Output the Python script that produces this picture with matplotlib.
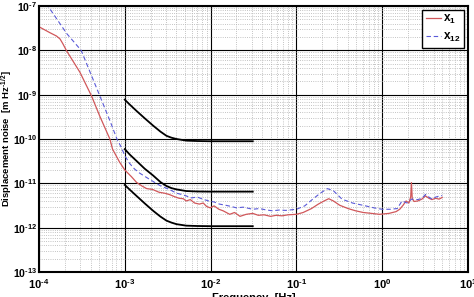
import numpy as np
import matplotlib
matplotlib.use("Agg")
from matplotlib import pyplot as plt
from matplotlib import ticker as mticker

# Displacement noise spectra
x1_freq = [1.0e-4, 1.34e-4, 1.6e-4, 1.76e-4, 1.9e-4, 2.1e-4, 3.0e-4, 4.1e-4, 5.1e-4, 6.7e-4, 7.2e-4, 8.7e-4,
           1.0e-3, 1.2e-3, 1.37e-3, 1.6e-3, 1.8e-3, 2.1e-3, 2.5e-3, 2.9e-3, 3.3e-3, 3.8e-3,
           4.3e-3, 4.8e-3, 5.2e-3, 5.8e-3, 6.5e-3, 7.4e-3, 8.2e-3, 9.0e-3, 9.9e-3, 1.1e-2,
           1.25e-2, 1.4e-2, 1.67e-2, 1.9e-2, 2.2e-2, 2.6e-2, 3.1e-2, 3.6e-2, 4.2e-2, 5.0e-2,
           5.8e-2, 6.8e-2, 8.0e-2, 0.1, 0.12, 0.15, 0.18, 0.21, 0.238, 0.27, 0.32, 0.4,
           0.49, 0.6, 0.75, 0.93, 1.2, 1.45, 1.6, 1.75, 1.9, 2.05, 2.15, 2.19, 2.24, 2.35,
           2.6, 2.9, 3.2, 3.5, 3.8, 4.2, 4.6, 5.0]
x1_val = [3.4e-8, 2.5e-8, 2.1e-8, 1.8e-8, 1.4e-8, 9.7e-9, 3.2e-9, 9.3e-10, 3.3e-10, 1.0e-10, 5.9e-11, 3.0e-11,
          2.0e-11, 1.4e-11, 1.05e-11, 8.6e-12, 7.6e-12, 7.3e-12, 6.3e-12, 6.0e-12, 5.6e-12, 5.0e-12,
          4.6e-12, 4.5e-12, 4.0e-12, 4.3e-12, 3.6e-12, 3.4e-12, 3.6e-12, 3.0e-12, 2.8e-12, 3.1e-12,
          2.6e-12, 2.4e-12, 2.0e-12, 2.2e-12, 1.8e-12, 2.0e-12, 2.1e-12, 1.9e-12, 1.95e-12, 1.8e-12,
          1.9e-12, 1.85e-12, 1.95e-12, 2.0e-12, 2.2e-12, 2.7e-12, 3.4e-12, 4.0e-12, 4.5e-12, 4.0e-12,
          3.2e-12, 2.7e-12, 2.4e-12, 2.2e-12, 2.1e-12, 2.0e-12, 2.1e-12, 2.3e-12, 2.6e-12, 3.2e-12,
          4.0e-12, 3.6e-12, 5.0e-12, 1.04e-11, 4.5e-12, 3.9e-12, 4.0e-12, 4.4e-12, 5.2e-12, 4.6e-12,
          4.3e-12, 4.6e-12, 4.4e-12, 4.8e-12]

x12_freq = [1.0e-4, 1.27e-4, 1.6e-4, 2.1e-4, 3.1e-4, 4.27e-4, 5.1e-4, 6.7e-4, 8.1e-4, 9.1e-4, 1.0e-3,
            1.14e-3, 1.3e-3, 1.49e-3, 1.8e-3, 2.14e-3, 2.6e-3, 3.3e-3, 4.0e-3, 4.6e-3, 5.2e-3,
            6.0e-3, 7.0e-3, 8.1e-3, 9.5e-3, 1.1e-2, 1.27e-2, 1.5e-2, 1.75e-2, 2.0e-2, 2.4e-2,
            3.1e-2, 3.7e-2, 4.5e-2, 5.3e-2, 6.3e-2, 7.5e-2, 0.1, 0.125, 0.155, 0.19, 0.23,
            0.27, 0.34, 0.45, 0.64, 0.8, 1.0, 1.25, 1.5, 1.7, 1.95, 2.2, 2.6, 2.9, 3.2, 3.5,
            3.8, 4.2, 4.7, 5.0]
x12_val = [1.3e-7, 1.0e-7, 5.2e-8, 2.4e-8, 1.0e-8, 2.2e-9, 9.5e-10, 2.6e-10, 1.0e-10, 6.5e-11, 4.2e-11,
           2.8e-11, 2.1e-11, 1.7e-11, 1.35e-11, 1.1e-11, 8.8e-12, 7.3e-12, 6.0e-12, 5.6e-12, 5.2e-12,
           4.7e-12, 4.9e-12, 4.4e-12, 4.0e-12, 3.8e-12, 3.4e-12, 3.2e-12, 3.0e-12, 2.8e-12, 2.9e-12,
           2.6e-12, 2.7e-12, 2.5e-12, 2.4e-12, 2.5e-12, 2.45e-12, 2.6e-12, 3.1e-12, 4.4e-12, 6.0e-12, 7.6e-12,
           6.8e-12, 4.4e-12, 3.6e-12, 3.1e-12, 2.8e-12, 2.6e-12, 2.6e-12, 2.7e-12, 4.0e-12, 3.6e-12, 4.4e-12,
           4.3e-12, 4.6e-12, 5.6e-12, 4.9e-12, 4.4e-12, 4.9e-12, 5.2e-12, 5.3e-12]

# Requirement curves (black), 1 mHz to 30 mHz
req_freq = [1.0e-3, 1.15e-3, 1.37e-3, 1.7e-3, 2.14e-3, 2.6e-3, 3.06e-3, 3.5e-3, 4.0e-3,
            5.2e-3, 7.0e-3, 1.0e-2, 3.1e-2]
req_a = [7.7e-10, 5.9e-10, 4.3e-10, 2.95e-10, 2.0e-10, 1.47e-10, 1.18e-10, 1.07e-10, 1.0e-10,
         9.2e-11, 9.0e-11, 8.9e-11, 8.9e-11]
req_b = [5.9e-11, 4.4e-11, 3.2e-11, 2.15e-11, 1.5e-11, 1.07e-11, 8.7e-12, 7.8e-12, 7.3e-12,
         6.7e-12, 6.55e-12, 6.5e-12, 6.5e-12]
req_c = [9.2e-12, 7.1e-12, 5.2e-12, 3.55e-12, 2.4e-12, 1.78e-12, 1.44e-12, 1.3e-12, 1.2e-12,
         1.11e-12, 1.09e-12, 1.08e-12, 1.08e-12]

x_ticks = [1e-4, 1e-3, 1e-2, 1e-1, 1e0, 1e1]
x_exps = ["-4", "-3", "-2", "-1", "0", "1"]
y_ticks = [1e-13, 1e-12, 1e-11, 1e-10, 1e-9, 1e-8, 1e-7]
y_exps = ["-13", "-12", "-11", "-10", "-9", "-8", "-7"]


def power_label(exp):
    # short hyphen instead of the wide mathtext minus
    exp = exp.replace("-", r"\text{-}")
    return r"$\mathbf{10^{%s}}$" % exp


plt.rcParams["font.family"] = ["Liberation Sans", "DejaVu Sans"]
plt.rcParams["mathtext.fontset"] = "custom"
plt.rcParams["mathtext.bf"] = "Liberation Sans:bold"
plt.rcParams["mathtext.rm"] = "Liberation Sans:bold"

fig = plt.figure(figsize=(4.74, 2.97), dpi=100)
ax = fig.add_axes([39 / 474, 1 - 272 / 297, 429 / 474, 266 / 297])

ax.loglog(x1_freq, x1_val, color="#d0575a", lw=0.9, label=r"$\mathbf{x_1}$")
ax.loglog(x12_freq, x12_val, color="#5a5ad8", lw=0.8, ls=(0, (4, 2.5)), label=r"$\mathbf{x_{12}}$")
for req in (req_a, req_b, req_c):
    ax.loglog(req_freq, req, color="black", lw=1.3)

ax.set_xlim(1e-4, 1e1)
ax.set_ylim(1e-13, 1e-7)
ax.set_xticks(x_ticks)
ax.set_xticklabels([power_label(e) for e in x_exps], fontsize=8)
ax.set_yticks(y_ticks)
ax.set_yticklabels([power_label(e) for e in y_exps], fontsize=7.6)
ax.xaxis.set_minor_locator(mticker.LogLocator(base=10, subs=np.arange(2, 10), numticks=20))
ax.yaxis.set_minor_locator(mticker.LogLocator(base=10, subs=np.arange(2, 10), numticks=20))
ax.xaxis.set_minor_formatter(mticker.NullFormatter())
ax.yaxis.set_minor_formatter(mticker.NullFormatter())

ax.grid(True, which="major", color="black", lw=0.8, ls="-")
ax.grid(True, which="minor", color="#b0b0b0", lw=0.6, ls=":")
ax.set_axisbelow(True)
ax.tick_params(which="both", direction="in", length=0)
ax.tick_params(axis="x", pad=4)
ax.tick_params(axis="y", pad=1.5)
for spine in ax.spines.values():
    spine.set_linewidth(1.5)

ax.set_xlabel("Frequency  [Hz]", fontsize=8, fontweight="bold", labelpad=1)
fig.text(6.5 / 474, 1 - 139 / 297, r"Displacement noise  [m Hz$^{\mathbf{\text{-}1/2}}$]",
         fontsize=6.8, fontweight="bold", rotation=90, ha="center", va="center")

leg = ax.legend(loc="upper right", fontsize=8.5, handlelength=1.3, fancybox=False,
                framealpha=1, edgecolor="black", borderpad=0.3, labelspacing=0.4,
                handletextpad=0.2, borderaxespad=0.3)
leg.get_frame().set_linewidth(1.0)

fig.savefig("out.png", dpi=100)
